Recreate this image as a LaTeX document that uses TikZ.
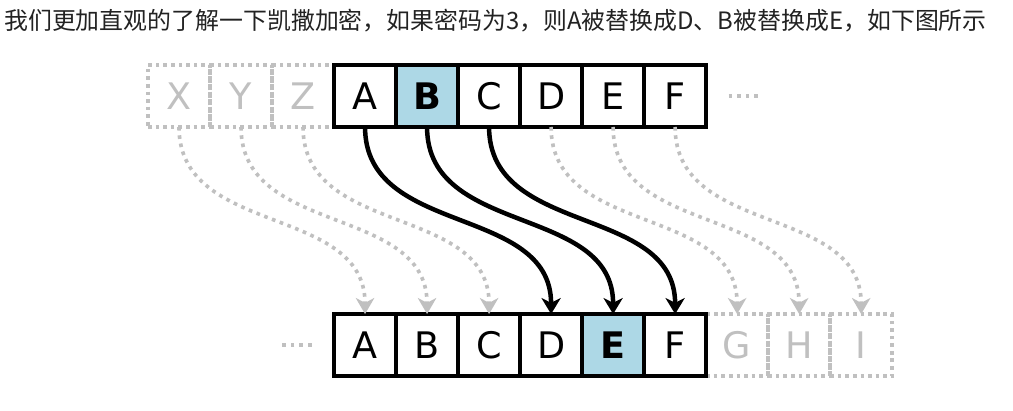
\documentclass[tikz,border=0pt]{standalone}
\usepackage{fontspec}
\usepackage{xcolor}
\usepackage{tikz}
\usetikzlibrary{arrows.meta, positioning, backgrounds}
\newfontfamily\cjkfont{Noto Sans CJK SC}
\newfontfamily\cellfont{DejaVu Sans}
\definecolor{cellblue}{RGB}{173,216,230}
\definecolor{fadegray}{RGB}{192,192,192}
\definecolor{textdark}{RGB}{34,34,34}
\tikzset{
  cell/.style={rectangle, draw=black, fill=white,
    minimum size=1.55cm, inner sep=0pt, outer sep=0pt,
    line width=2.9pt, font=\cellfont\fontsize{26}{30}\selectfont},
  keycell/.style={cell, fill=cellblue,
    font=\cellfont\bfseries\fontsize{26}{30}\selectfont},
  ghostcell/.style={rectangle, draw=fadegray, text=fadegray,
    minimum size=1.55cm, inner sep=0pt, outer sep=0pt,
    line width=2.6pt, dash pattern=on 2.6pt off 2.8pt,
    font=\cellfont\fontsize{26}{30}\selectfont},
  shiftarrow/.style={-{Stealth[length=0.4cm, width=0.48cm, inset=0.12cm]},
    line width=3.2pt, color=black},
  ghostarrow/.style={-{Stealth[length=0.4cm, width=0.46cm, inset=0.12cm]},
    line width=2.6pt, dash pattern=on 2.6pt off 3.3pt, color=fadegray},
  ghostdots/.style={line width=2.6pt, dash pattern=on 2.6pt off 3.5pt, color=fadegray}
}

\begin{document}
\begin{tikzpicture}[x=0.025cm, y=0.025cm]
  \useasboundingbox (0,0) rectangle (1013,411);

  % Caption
  \node[anchor=west, inner sep=0pt, text=textdark,
    font=\cjkfont\fontsize{17}{20}\selectfont] (caption) at (4,390)
    {我们更加直观的了解一下凯撒加密，如果密码为3，则A被替换成D、B被替换成E，如下图所示};

  % Plain alphabet (top row)
  \node[ghostcell] (X1) at (179,315) {X};
  \node[ghostcell, right=0pt of X1] (Y1) {Y};
  \node[ghostcell, right=0pt of Y1] (Z1) {Z};
  \node[cell, right=0pt of Z1] (A1) {A};
  \node[keycell, right=0pt of A1] (B1) {B};
  \node[cell, right=0pt of B1] (C1) {C};
  \node[cell, right=0pt of C1] (D1) {D};
  \node[cell, right=0pt of D1] (E1) {E};
  \node[cell, right=0pt of E1] (F1) {F};
  \draw[ghostdots] ([xshift=16]F1.east) -- ++(30,0);

  % Cipher alphabet (bottom row)
  \node[cell, below=4.675cm of A1] (A2) {A};
  \node[cell, right=0pt of A2] (B2) {B};
  \node[cell, right=0pt of B2] (C2) {C};
  \node[cell, right=0pt of C2] (D2) {D};
  \node[keycell, right=0pt of D2] (E2) {E};
  \node[cell, right=0pt of E2] (F2) {F};
  \begin{pgfonlayer}{background}
    \node[ghostcell, right=0pt of F2] (G2) {G};
    \node[ghostcell, right=0pt of G2] (H2) {H};
    \node[ghostcell, right=0pt of H2] (I2) {I};
  \end{pgfonlayer}
  \draw[ghostdots] ([xshift=-16]A2.west) -- ++(-30,0);

  % Shift by 3 (faded)
  \draw[ghostarrow] (X1.south) .. controls +(0,-110) and +(0,110) .. (A2.north);
  \draw[ghostarrow] (Y1.south) .. controls +(0,-110) and +(0,110) .. (B2.north);
  \draw[ghostarrow] (Z1.south) .. controls +(0,-110) and +(0,110) .. (C2.north);
  \draw[ghostarrow] (D1.south) .. controls +(0,-110) and +(0,110) .. (G2.north);
  \draw[ghostarrow] (E1.south) .. controls +(0,-110) and +(0,110) .. (H2.north);
  \draw[ghostarrow] (F1.south) .. controls +(0,-110) and +(0,110) .. (I2.north);

  % Shift by 3
  \draw[shiftarrow] (A1.south) .. controls +(0,-110) and +(0,110) .. (D2.north);
  \draw[shiftarrow] (B1.south) .. controls +(0,-110) and +(0,110) .. (E2.north);
  \draw[shiftarrow] (C1.south) .. controls +(0,-110) and +(0,110) .. (F2.north);
\end{tikzpicture}
\end{document}
